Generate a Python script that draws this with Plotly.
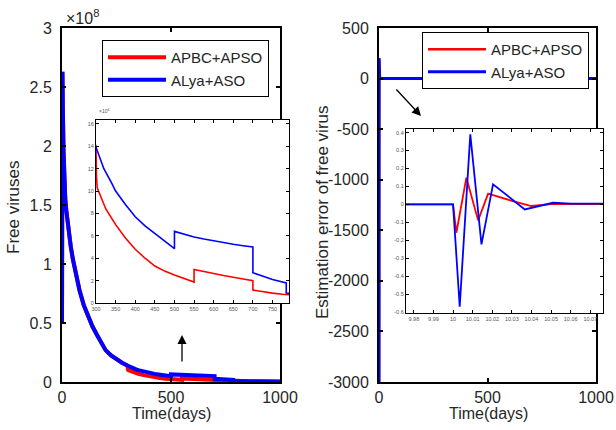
import plotly.graph_objects as go

# ---------------- data ----------------
# Free viruses (units of 1e6), left panel + inset
days_blue = [0, 1, 2, 4, 7, 10, 15, 20, 30, 40, 50, 60, 80, 100, 120, 140, 160, 180, 200,
             225, 250, 275, 300, 320, 340, 350, 375, 400, 425, 450, 475, 500, 500, 525, 550,
             575, 600, 625, 650, 675, 700, 700, 725, 750, 785, 785, 800, 850, 900, 950, 1000]
vir_blue = [50, 200, 263, 230, 195, 172, 155, 145, 128, 115, 104, 94, 78, 65, 55, 47, 40, 33, 27,
            22.5, 19, 16.3, 14.0, 12.0, 10.7, 10.0, 8.8, 7.7, 6.9, 6.2, 5.5, 4.85, 6.4, 6.15, 5.9,
            5.72, 5.55, 5.4, 5.25, 5.12, 5.0, 2.7, 2.4, 2.1, 1.8, 0.9, 0.85, 0.7, 0.55, 0.45, 0.35]

days_red = [0, 1, 2, 4, 7, 10, 15, 20, 30, 40, 50, 60, 80, 100, 120, 140, 160, 180, 200,
            225, 250, 275, 300, 301, 303, 310, 325, 350, 375, 400, 425, 450, 475, 500, 525, 550,
            550, 575, 600, 625, 650, 675, 700, 700, 725, 750, 775, 800, 850, 900, 950, 1000]
vir_red = [50, 200, 263, 230, 195, 172, 155, 145, 128, 115, 104, 94, 78, 65, 55, 47, 40, 33, 27,
           22.5, 19, 16.3, 14.0, 11.5, 10.3, 9.7, 8.4, 7.0, 5.8, 4.8, 4.0, 3.3, 2.85, 2.5, 2.15, 1.87,
           3.0, 2.8, 2.62, 2.45, 2.3, 2.15, 2.0, 1.15, 1.0, 0.88, 0.78, 0.7, 0.55, 0.45, 0.35, 0.3]

# Estimation error of free virus, right panel + inset
err_days_blue = [0, 0.5, 3, 9.97, 10.0, 10.0034, 10.0088, 10.0145, 10.0204, 10.0366, 10.051, 10.06, 10.08, 1000]
err_blue = [-3200, 200, 0, 0, 0, -0.57, 0.39, -0.223, 0.112, -0.028, 0.009, 0.004, 0, 0]
err_days_red = [0, 0.5, 3, 9.97, 10.0, 10.0017, 10.0068, 10.0128, 10.0179, 10.03, 10.04, 10.05, 10.06, 10.08, 1000]
err_red = [-3200, 200, 0, 0, 0, -0.158, 0.149, -0.089, 0.06, 0.02, -0.009, 0.002, 0, 0, 0]

names = ["APBC+APSO", "ALya+ASO"]

main_vir_ticks = [0, 50, 100, 150, 200, 250, 300]
main_vir_labels = ["0", "0.5", "1", "1.5", "2", "2.5", "3"]
main_err_ticks = [-3000, -2500, -2000, -1500, -1000, -500, 0, 500]
main_err_labels = ["-3000", "-2500", "-2000", "-1500", "-1000", "-500", "0", "500"]
inset1_xticks = [300, 350, 400, 450, 500, 550, 600, 650, 700, 750]
inset1_yticks = [0, 2, 4, 6, 8, 10, 12, 14, 16]
inset2_xticks = [9.98, 9.99, 10.0, 10.01, 10.02, 10.03, 10.04, 10.05, 10.06, 10.07]
inset2_xlabels = ["9.98", "9.99", "10", "10.01", "10.02", "10.03", "10.04", "10.05", "10.06", "10.07"]
inset2_yticks = [-0.6, -0.5, -0.4, -0.3, -0.2, -0.1, 0, 0.1, 0.2, 0.3, 0.4]
inset2_ylabels = ["-0.6", "-0.5", "-0.4", "-0.3", "-0.2", "-0.1", "0", "0.1", "0.2", "0.3", "0.4"]

# ---------------- figure ----------------
W, H = 616, 430
FONT = "Liberation Sans, Arial, sans-serif"
RED, BLUE = "#FF0000", "#0000FF"
TXT = "#262626"


def px(x):
    return x / W


def py(y):
    return 1 - y / H


fig = go.Figure()
# left main
fig.add_trace(go.Scatter(x=days_red, y=vir_red, mode="lines", name=names[0],
                         line=dict(color=RED, width=4), xaxis="x", yaxis="y", legend="legend"))
fig.add_trace(go.Scatter(x=days_blue, y=vir_blue, mode="lines", name=names[1],
                         line=dict(color=BLUE, width=4), xaxis="x", yaxis="y", legend="legend"))
# right main
fig.add_trace(go.Scatter(x=err_days_red, y=err_red, mode="lines", name=names[0],
                         line=dict(color=RED, width=2.5), xaxis="x2", yaxis="y2", legend="legend2"))
fig.add_trace(go.Scatter(x=err_days_blue, y=err_blue, mode="lines", name=names[1],
                         line=dict(color=BLUE, width=3), xaxis="x2", yaxis="y2", legend="legend2"))
# left inset
fig.add_trace(go.Scatter(x=days_red, y=vir_red, mode="lines", showlegend=False,
                         line=dict(color=RED, width=1.6), xaxis="x3", yaxis="y3"))
fig.add_trace(go.Scatter(x=days_blue, y=vir_blue, mode="lines", showlegend=False,
                         line=dict(color=BLUE, width=1.6), xaxis="x3", yaxis="y3"))
# right inset
fig.add_trace(go.Scatter(x=err_days_red, y=err_red, mode="lines", showlegend=False,
                         line=dict(color=RED, width=1.8), xaxis="x4", yaxis="y4"))
fig.add_trace(go.Scatter(x=err_days_blue, y=err_blue, mode="lines", showlegend=False,
                         line=dict(color=BLUE, width=1.8), xaxis="x4", yaxis="y4"))

common = dict(showline=True, linecolor="black", mirror="ticks", ticks="inside",
              tickcolor="black", showgrid=False, zeroline=False, automargin=False)
main = dict(common, linewidth=2, ticklen=4, tickwidth=1.5,
            tickfont=dict(size=16, color=TXT, family=FONT))
small = dict(common, linewidth=1.3, ticklen=3, tickwidth=1,
             tickfont=dict(size=5.5, color="#555555", family=FONT))

fig.update_layout(
    width=W, height=H, margin=dict(l=0, r=0, t=0, b=0, pad=0, autoexpand=False),
    paper_bgcolor="white", plot_bgcolor="white",
    font=dict(family=FONT, color=TXT),
    xaxis=dict(main, domain=[px(62), px(280)], range=[0, 1000], tickvals=[0, 500, 1000],
               anchor="y", ticklabelstandoff=0),
    yaxis=dict(main, domain=[py(382), py(28)], range=[0, 300], tickvals=main_vir_ticks,
               ticktext=main_vir_labels, anchor="x", ticklabelstandoff=5),
    xaxis2=dict(main, domain=[px(379), px(596)], range=[0, 1000], tickvals=[0, 500, 1000],
                anchor="y2", ticklabelstandoff=0),
    yaxis2=dict(main, domain=[py(382), py(28)], range=[-3000, 500], tickvals=main_err_ticks,
                ticktext=main_err_labels, anchor="x2", ticklabelstandoff=5),
    xaxis3=dict(small, domain=[px(96), px(289)], range=[300, 792], tickvals=inset1_xticks,
                anchor="y3"),
    yaxis3=dict(small, domain=[py(303), py(120)], range=[0, 16.35], tickvals=inset1_yticks,
                anchor="x3"),
    xaxis4=dict(small, domain=[px(406), px(603)], range=[9.976, 10.0765], tickvals=inset2_xticks,
                ticktext=inset2_xlabels, anchor="y4"),
    yaxis4=dict(small, domain=[py(313), py(129)], range=[-0.605, 0.42], tickvals=inset2_yticks,
                ticktext=inset2_ylabels, anchor="x4"),
    legend=dict(x=px(102), y=py(40), xanchor="left", yanchor="top", bgcolor="white",
                bordercolor="black", borderwidth=1, font=dict(size=15, color=TXT, family=FONT),
                itemwidth=58, tracegroupgap=0),
    legend2=dict(x=px(422), y=py(32), xanchor="left", yanchor="top", bgcolor="white",
                 bordercolor="black", borderwidth=1, font=dict(size=15, color=TXT, family=FONT),
                 itemwidth=58, tracegroupgap=0),
)

ann = [
    dict(x=px(64), y=py(17), text="×10<sup>8</sup>", showarrow=False, xanchor="left",
         yanchor="middle", font=dict(size=16, color=TXT)),
    dict(x=px(97), y=py(116), text="×10<sup>6</sup>", showarrow=False, xanchor="left",
         yanchor="bottom", font=dict(size=5, color="#555555")),
    dict(x=px(13), y=py(207), text="Free viruses", showarrow=False, textangle=-90,
         xanchor="center", yanchor="middle", font=dict(size=17, color=TXT)),
    dict(x=px(322), y=py(212), text="Estimation error of free virus", showarrow=False,
         textangle=-90, xanchor="center", yanchor="middle", font=dict(size=17, color=TXT)),
    dict(x=px(171), y=py(413), text="Time(days)", showarrow=False, xanchor="center",
         yanchor="middle", font=dict(size=16, color=TXT)),
    dict(x=px(488), y=py(413), text="Time(days)", showarrow=False, xanchor="center",
         yanchor="middle", font=dict(size=16, color=TXT)),
    dict(x=px(182), y=py(335), ax=0, ay=28, text="", showarrow=True, arrowhead=2,
         arrowsize=1.4, arrowwidth=1.3, arrowcolor="black"),
    dict(x=px(421), y=py(116), ax=-26, ay=-28, text="", showarrow=True, arrowhead=2,
         arrowsize=1.4, arrowwidth=1.3, arrowcolor="black"),
]
for a in ann:
    a.setdefault("xref", "paper")
    a.setdefault("yref", "paper")
fig.update_layout(annotations=ann)

fig.write_html("out.html")
